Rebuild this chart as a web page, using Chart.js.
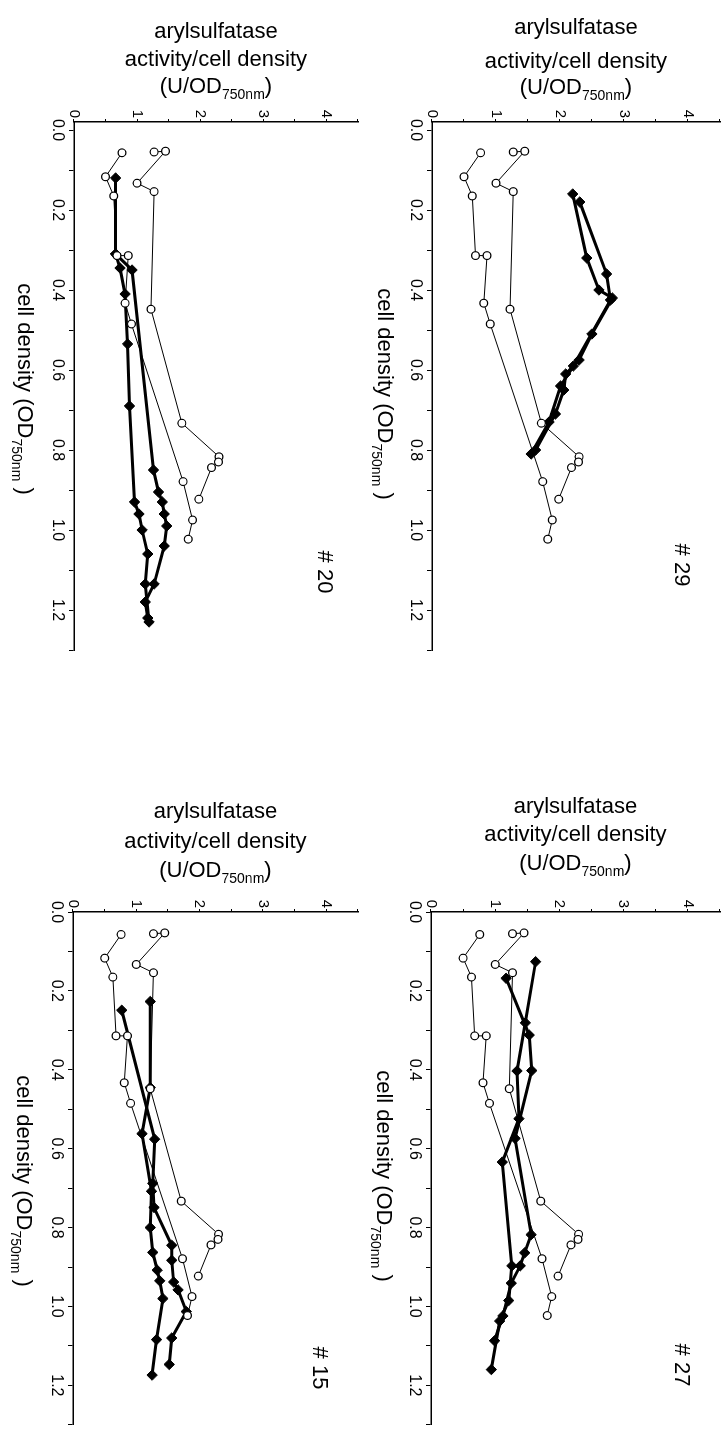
<!DOCTYPE html>
<html>
<head>
<meta charset="utf-8">
<script src="https://cdn.jsdelivr.net/npm/chart.js@4.4.0/dist/chart.umd.min.js"></script>
<style>
  html, body { margin: 0; padding: 0; background: #fff; overflow: hidden; }
  /* the whole figure is laid out landscape, then turned a quarter clockwise */
  #figure {
    position: absolute; left: 0; top: 0;
    width: 1431px; height: 726px;
    transform-origin: 0 0;
    transform: translate(726px, 0) rotate(90deg);
  }
  #figure canvas { position: absolute; }
</style>
</head>
<body>
<div id="figure">
  <canvas id="c29"></canvas>
  <canvas id="c27"></canvas>
  <canvas id="c20"></canvas>
  <canvas id="c15"></canvas>
</div>
<script>
// open circles: the two reference cultures, same in every panel
var refDensity1  = [0.057, 0.117, 0.165, 0.314, 0.314, 0.433, 0.485, 0.879, 0.975, 1.023];
var refActivity1 = [0.76, 0.50, 0.63, 0.68, 0.86, 0.81, 0.91, 1.73, 1.88, 1.81];
var refDensity2  = [0.055, 0.053, 0.133, 0.154, 0.448, 0.733, 0.817, 0.830, 0.844, 0.923];
var refActivity2 = [1.27, 1.45, 1.00, 1.27, 1.22, 1.71, 2.30, 2.29, 2.18, 1.98];

// filled diamonds: two cultures of each strain
var density29a  = [0.16, 0.32, 0.40, 0.42, 0.51, 0.575, 0.61, 0.65, 0.71, 0.80];
var activity29a = [2.20, 2.42, 2.61, 2.82, 2.50, 2.30, 2.09, 2.06, 1.93, 1.62];
var density29b  = [0.18, 0.36, 0.425, 0.59, 0.64, 0.73, 0.81];
var activity29b = [2.31, 2.73, 2.79, 2.21, 2.01, 1.83, 1.55];

var density20a  = [0.12, 0.31, 0.35, 0.85, 0.905, 0.93, 0.96, 0.99, 1.04, 1.135, 1.18, 1.22];
var activity20a = [0.66, 0.66, 0.92, 1.26, 1.34, 1.40, 1.43, 1.47, 1.43, 1.27, 1.13, 1.17];
var density20b  = [0.31, 0.345, 0.41, 0.535, 0.69, 0.93, 0.96, 1.00, 1.06, 1.135, 1.23];
var activity20b = [0.66, 0.73, 0.81, 0.85, 0.88, 0.96, 1.03, 1.08, 1.17, 1.13, 1.19];

var density27a  = [0.126, 0.281, 0.403, 0.524, 0.634, 0.897, 0.985, 1.037, 1.16];
var activity27a = [1.63, 1.47, 1.34, 1.37, 1.11, 1.26, 1.21, 1.07, 0.94];
var density27b  = [0.168, 0.312, 0.402, 0.574, 0.818, 0.864, 0.897, 0.941, 1.024, 1.087];
var activity27b = [1.17, 1.53, 1.57, 1.31, 1.56, 1.46, 1.39, 1.25, 1.12, 0.99];

var density15a  = [0.227, 0.445, 0.562, 0.708, 0.80, 0.863, 0.908, 0.935, 0.98, 1.084, 1.174];
var activity15a = [1.22, 1.22, 1.09, 1.24, 1.22, 1.26, 1.33, 1.37, 1.42, 1.32, 1.25];
var density15b  = [0.249, 0.576, 0.688, 0.749, 0.845, 0.883, 0.938, 0.958, 1.013, 1.08, 1.147];
var activity15b = [0.77, 1.29, 1.26, 1.28, 1.56, 1.56, 1.59, 1.66, 1.79, 1.56, 1.52];

// axis ticks
var activityTickValues = [0, 0.5, 1, 1.5, 2, 2.5, 3, 3.5, 4, 4.5];
var activityTickLabels = ['0', '', '1', '', '2', '', '3', '', '4', ''];
var densityTickValues = [0, 0.1, 0.2, 0.3, 0.4, 0.5, 0.6, 0.7, 0.8, 0.9, 1.0, 1.1, 1.2, 1.3];
var densityTickLabels = ['0.0', '', '0.2', '', '0.4', '', '0.6', '', '0.8', '', '1.0', '', '1.2', ''];

var FONT = '"Liberation Sans", Arial, Helvetica, sans-serif';
var TITLE_SIZE = 22;
var LABEL_SIZE = 22;

function points(xs, ys) {
  return xs.map(function(x, i) { return { x: x, y: ys[i] }; });
}

// text runs: [string, isSubscript]
var yTitleLines = [
  [['arylsulfatase', false]],
  [['activity/cell density', false]],
  [['(U/OD', false], ['750nm', true], [')', false]]
];
var xTitleRuns = [['cell density (OD', false], ['750nm', true], [' )', false]];

function runFont(sub) {
  return (sub ? Math.round(TITLE_SIZE * 0.62) : TITLE_SIZE) + 'px ' + FONT;
}
function runsWidth(ctx, runs) {
  var w = 0;
  runs.forEach(function(r) { ctx.font = runFont(r[1]); w += ctx.measureText(r[0]).width; });
  return w;
}
function drawRuns(ctx, runs, cx, baseline) {
  var x = cx - runsWidth(ctx, runs) / 2;
  runs.forEach(function(r) {
    ctx.font = runFont(r[1]);
    ctx.fillText(r[0], x, baseline + (r[1] ? TITLE_SIZE * 0.3 : 0));
    x += ctx.measureText(r[0]).width;
  });
}

// axis titles and the strain label
var panelText = {
  id: 'panelText',
  afterDraw: function(chart, args, opts) {
    var ctx = chart.ctx, area = chart.chartArea;
    var vMid = (area.top + area.bottom) / 2;
    ctx.save();
    ctx.fillStyle = '#000';
    ctx.textAlign = 'left';
    ctx.textBaseline = 'alphabetic';
    yTitleLines.forEach(function(runs, i) {
      ctx.save();
      ctx.translate(opts.yTitleU[i] + 0.26 * TITLE_SIZE, vMid);
      ctx.rotate(-Math.PI / 2);
      drawRuns(ctx, runs, 0, 0);
      ctx.restore();
    });
    drawRuns(ctx, xTitleRuns, opts.xTitleU, opts.xTitleV + 0.26 * TITLE_SIZE);
    ctx.font = LABEL_SIZE + 'px ' + FONT;
    ctx.textAlign = 'center';
    ctx.fillText(opts.label, opts.labelU, opts.labelV + 0.36 * LABEL_SIZE);
    ctx.restore();
  }
};

function refSet(xs, ys) {
  return {
    data: points(xs, ys), showLine: true, borderColor: '#000', borderWidth: 1,
    pointStyle: 'circle', pointRadius: 3.9, pointBorderWidth: 1.2,
    pointBackgroundColor: '#fff', pointBorderColor: '#000'
  };
}
function strainSet(xs, ys) {
  return {
    data: points(xs, ys), showLine: true, borderColor: '#000', borderWidth: 3,
    pointStyle: 'rectRot', pointRadius: 5.2, pointBorderWidth: 1,
    pointBackgroundColor: '#000', pointBorderColor: '#000'
  };
}

function makePanel(p) {
  var canvas = document.getElementById(p.id);
  canvas.width = p.w;
  canvas.height = p.h;
  canvas.style.left = p.left + 'px';
  canvas.style.top = p.top + 'px';
  var ax = {
    border: { display: true, color: '#000', width: 1.5 },
    grid: { drawOnChartArea: false, drawTicks: true, color: '#000', lineWidth: 1 }
  };
  return new Chart(canvas.getContext('2d'), {
    type: 'scatter',
    data: {
      datasets: [
        refSet(refDensity1, refActivity1),
        refSet(refDensity2, refActivity2),
        strainSet(p.a[0], p.a[1]),
        strainSet(p.b[0], p.b[1])
      ]
    },
    options: {
      responsive: false,
      animation: false,
      devicePixelRatio: 1,
      layout: { padding: { left: 0, top: p.area.top, right: p.w - p.area.right, bottom: 0 } },
      plugins: {
        legend: { display: false },
        tooltip: { enabled: false },
        panelText: { yTitleU: p.yTitleU, xTitleU: p.xTitleU, xTitleV: p.xTitleV,
                     label: p.label, labelU: p.labelU, labelV: p.labelV }
      },
      scales: {
        x: {
          type: 'linear', position: 'bottom', min: p.xMin, max: 1.3,
          border: ax.border,
          grid: Object.assign({ tickLength: 5 }, ax.grid),
          ticks: {
            autoSkip: false, maxRotation: 0, minRotation: 0, padding: 2, color: '#000',
            font: { family: FONT, size: 16 },
            callback: function(v, i) { return densityTickLabels[i]; }
          },
          afterBuildTicks: function(s) { s.ticks = densityTickValues.map(function(v) { return { value: v }; }); },
          afterFit: function(s) {
            s.height = p.h - p.area.bottom;
            s.paddingLeft = 0; s.paddingRight = 0;
          }
        },
        y: {
          type: 'linear', position: 'left', min: 0, max: 4.5,
          border: ax.border,
          grid: Object.assign({ tickLength: 3 }, ax.grid),
          ticks: {
            autoSkip: false, padding: 1, color: '#000',
            font: { family: FONT, size: 15 },
            callback: function(v, i) { return activityTickLabels[i]; }
          },
          afterBuildTicks: function(s) { s.ticks = activityTickValues.map(function(v) { return { value: v }; }); },
          afterFit: function(s) {
            s.width = p.area.left;
            s.paddingTop = 0; s.paddingBottom = 0;
          }
        }
      }
    },
    plugins: [panelText]
  });
}

var panels = [
  { id: 'c29', label: '# 29', left: 0, top: 0, w: 720, h: 362, xMin: -0.02,
    area: { left: 122, right: 650, top: 3, bottom: 294 },
    yTitleU: [28, 62, 88], xTitleU: 394, xTitleV: 342, labelU: 565, labelV: 43,
    a: [density29a, activity29a], b: [density29b, activity29b] },
  { id: 'c20', label: '# 20', left: 0, top: 362, w: 720, h: 364, xMin: -0.02,
    area: { left: 122, right: 650, top: 1, bottom: 290 },
    yTitleU: [32, 60, 87], xTitleU: 389, xTitleV: 340, labelU: 572, labelV: 38,
    a: [density20a, activity20a], b: [density20b, activity20b] },
  { id: 'c27', label: '# 27', left: 780, top: 0, w: 651, h: 362, xMin: 0,
    area: { left: 132, right: 651, top: 4, bottom: 295 },
    yTitleU: [27, 55, 84], xTitleU: 396, xTitleV: 343, labelU: 585, labelV: 43,
    a: [density27a, activity27a], b: [density27b, activity27b] },
  { id: 'c15', label: '# 15', left: 780, top: 362, w: 651, h: 364, xMin: 0,
    area: { left: 132, right: 651, top: 2, bottom: 291 },
    yTitleU: [32, 62, 91], xTitleU: 401, xTitleV: 341, labelU: 588, labelV: 43,
    a: [density15a, activity15a], b: [density15b, activity15b] }
];

panels.forEach(makePanel);
</script>
</body>
</html>
